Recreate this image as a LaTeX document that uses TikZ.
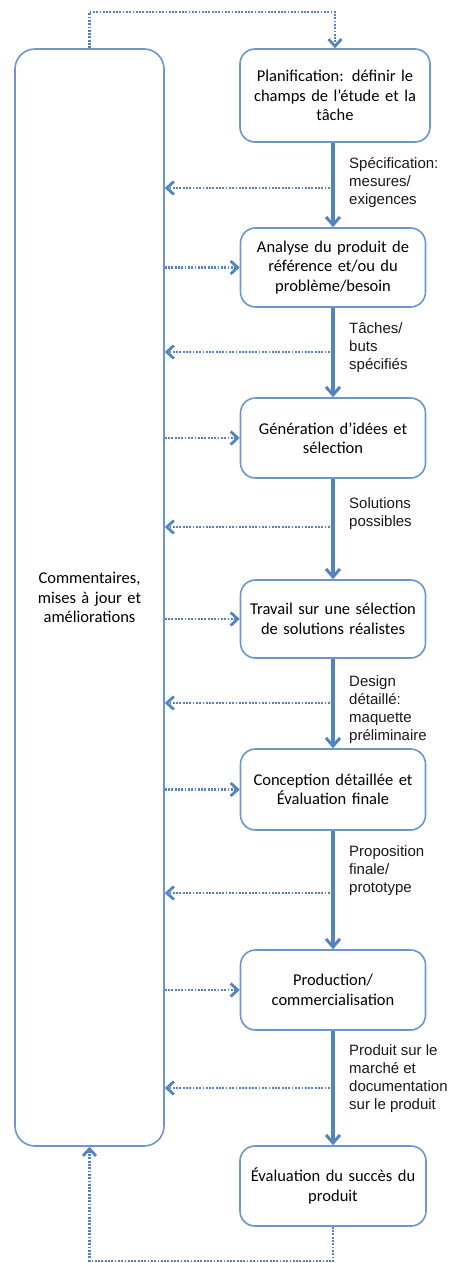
\documentclass[tikz,border=0pt]{standalone}
\usepackage{fontspec}
\setmainfont{Carlito}
\newfontfamily\labelfont{Liberation Sans}
\usetikzlibrary{arrows.meta}
\definecolor{flowblue}{RGB}{84,132,192}
\definecolor{edgeblue}{RGB}{108,150,204}
\definecolor{labelgray}{RGB}{25,25,25}
\tikzset{
  stagebox/.style={draw=edgeblue, line width=1.6pt, rounded corners=15pt,
    align=center, inner sep=2pt, text width=170pt,
    font=\fontsize{16.5}{19.5}\selectfont},
  feedbox/.style={draw=edgeblue, line width=1.6pt, rounded corners=20pt,
    align=center, inner sep=2pt, text width=140pt,
    font=\fontsize{16.5}{19.5}\selectfont},
  mainflow/.style={draw=flowblue, line width=3.6pt,
    -{Straight Barb[length=8pt,width=14pt,line width=3pt]}},
  loopflow/.style={draw=flowblue, line width=2.6pt, dash pattern=on 1.8pt off 1.5pt,
    -{Straight Barb[length=7pt,width=13pt,line width=2.8pt]}},
  steplabel/.style={anchor=west, align=left, inner sep=0pt, text=labelgray,
    font=\labelfont\fontsize{15}{18}\selectfont},
}
\begin{document}
\begin{tikzpicture}[x=1pt, y=-1pt]
\useasboundingbox (0,0) rectangle (451,1263);

% feedback column
\node[feedbox, minimum width=149pt, minimum height=1097pt] (L) at (89.5,597.5)
  {Commentaires,\\mises à jour et\\améliorations};

% process stages
\node[stagebox, minimum width=190pt, minimum height=93pt] (b1) at (335,95.5)
  {Planification: définir le\\champs de l’étude et la\\tâche};
\node[stagebox, minimum width=185pt, minimum height=79pt] (b2) at (333,267.5)
  {Analyse du produit de\\référence et/ou du\\problème/besoin};
\node[stagebox, minimum width=185pt, minimum height=80pt] (b3) at (333,438)
  {Génération d’idées et\\sélection};
\node[stagebox, minimum width=185pt, minimum height=78pt] (b4) at (333,619)
  {Travail sur une sélection\\de solutions réalistes};
\node[stagebox, minimum width=185pt, minimum height=81pt] (b5) at (333,789.5)
  {Conception détaillée et\\Évaluation finale};
\node[stagebox, minimum width=185pt, minimum height=80pt] (b6) at (333,990)
  {Production/\\commercialisation};
\node[stagebox, minimum width=186pt, minimum height=80pt] (b7) at (333,1186)
  {Évaluation du succès du\\produit};

% main flow
\draw[mainflow] (b2.north |- b1.south) -- (b2.north);
\draw[mainflow] (b2.south) -- (b3.north);
\draw[mainflow] (b3.south) -- (b4.north);
\draw[mainflow] (b4.south) -- (b5.north);
\draw[mainflow] (b5.south) -- (b6.north);
\draw[mainflow] (b6.south) -- (b7.north);

% flow labels
\node[steplabel] (t1) at (349,183) {Spécification:\\mesures/\\exigences};
\node[steplabel] (t2) at (349,348) {Tâches/\\buts\\spécifiés};
\node[steplabel] (t3) at (349,514) {Solutions\\possibles};
\node[steplabel] (t4) at (349,710) {Design\\détaillé:\\maquette\\préliminaire};
\node[steplabel] (t5) at (349,871) {Proposition\\finale/\\prototype};
\node[steplabel] (t6) at (349,1079) {Produit sur le\\marché et\\documentation\\sur le produit};

% feedback taps on the main flow
\coordinate (f1) at (333,188);
\coordinate (f2) at (333,352);
\coordinate (f3) at (333,527);
\coordinate (f4) at (333,703);
\coordinate (f5) at (333,893);
\coordinate (f6) at (333,1088);
\foreach \f in {f1,f2,f3,f4,f5,f6}
  \draw[loopflow] (\f) -- (\f -| L.east);

% updates fed back into each stage
\foreach \b in {b2,b3,b4,b5,b6}
  \draw[loopflow] (L.east |- \b.west) -- (\b.west);

% outer loop
\coordinate (top) at (90,12);
\coordinate (bot) at (90,1261);
\draw[loopflow] (L.north) -- (L.north |- top) -| (b1.north);
\draw[loopflow] (b7.south) -- (b7.south |- bot) -| (L.south);
\end{tikzpicture}
\end{document}
